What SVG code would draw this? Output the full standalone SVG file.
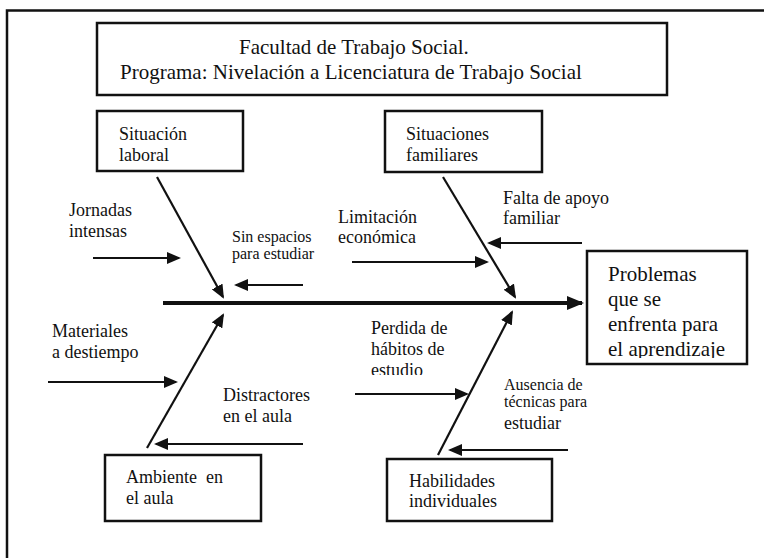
<svg xmlns="http://www.w3.org/2000/svg" width="764" height="558" viewBox="0 0 764 558">
  <style>
    text { font-family: "Liberation Serif", "Times New Roman", serif; fill: #111; }
    .t21 { font-size: 21px; }
    .t18 { font-size: 18px; }
    .t16 { font-size: 16px; }
    .box { fill: #fff; stroke: #111; stroke-width: 2.5; }
    .frame { fill: none; stroke: #111; stroke-width: 2.5; }
    .arrow { fill: none; stroke: #111; stroke-width: 2.2; marker-end: url(#head); }
    .spine { fill: none; stroke: #111; stroke-width: 4; marker-end: url(#bighead); }
  </style>
  <defs>
    <marker id="head" markerUnits="userSpaceOnUse" markerWidth="14" markerHeight="12" viewBox="0 0 14 12" refX="12" refY="6" orient="auto">
      <path d="M0,0 L14,6 L0,12 Z" fill="#111"/>
    </marker>
    <marker id="bighead" markerUnits="userSpaceOnUse" markerWidth="17" markerHeight="14" viewBox="0 0 17 14" refX="15" refY="7" orient="auto">
      <path d="M0,0 L17,7 L0,14 Z" fill="#111"/>
    </marker>
    <clipPath id="clipProblemas"><rect x="587" y="251" width="160" height="107"/></clipPath>
    <clipPath id="clipPerdida"><rect x="360" y="318" width="120" height="57"/></clipPath>
  </defs>

  <rect width="764" height="558" fill="#fff"/>

  <!-- page frame: left and top rules only -->
  <path class="frame" d="M7,558 V10.5 H764"/>

  <!-- header box -->
  <g id="header">
    <rect class="box" x="97" y="23" width="570" height="72"/>
    <text class="t21" x="239" y="54">Facultad de Trabajo Social.</text>
    <text class="t21" x="120" y="79">Programa: Nivelación a Licenciatura de Trabajo Social</text>
  </g>

  <!-- connectors: spine, bones and sub-cause arrows -->
  <g id="connectors">
    <line class="spine" x1="163" y1="303" x2="582" y2="303"/>
    <line class="arrow" x1="157" y1="177" x2="223" y2="297"/>
    <line class="arrow" x1="443" y1="177" x2="515" y2="297"/>
    <line class="arrow" x1="147" y1="448" x2="223" y2="315"/>
    <line class="arrow" x1="438" y1="455" x2="512" y2="312"/>
    <line class="arrow" x1="93" y1="258" x2="179" y2="258"/>
    <line class="arrow" x1="303" y1="285" x2="236" y2="285"/>
    <line class="arrow" x1="352" y1="262" x2="487" y2="262"/>
    <line class="arrow" x1="582" y1="243" x2="489" y2="243"/>
    <line class="arrow" x1="48" y1="382" x2="176" y2="382"/>
    <line class="arrow" x1="303" y1="444" x2="156" y2="444"/>
    <line class="arrow" x1="355" y1="394" x2="467" y2="394"/>
    <line class="arrow" x1="568" y1="450" x2="450" y2="450"/>
  </g>

  <!-- cause categories -->
  <g id="situacion-laboral">
    <rect class="box" x="97" y="111" width="146" height="60"/>
    <text class="t18" x="119" y="140">Situación</text>
    <text class="t18" x="119" y="161">laboral</text>
  </g>
  <g id="situaciones-familiares">
    <rect class="box" x="385" y="111" width="157" height="61"/>
    <text class="t18" x="406" y="140">Situaciones</text>
    <text class="t18" x="406" y="161">familiares</text>
  </g>
  <g id="ambiente-aula">
    <rect class="box" x="105" y="455" width="156" height="66"/>
    <text class="t18" x="126" y="483" xml:space="preserve">Ambiente  en</text>
    <text class="t18" x="126" y="504">el aula</text>
  </g>
  <g id="habilidades">
    <rect class="box" x="387" y="459" width="165" height="62"/>
    <text class="t18" x="409" y="487">Habilidades</text>
    <text class="t18" x="409" y="507">individuales</text>
  </g>

  <!-- effect -->
  <g id="problemas">
    <rect class="box" x="587" y="251" width="160" height="113"/>
    <g clip-path="url(#clipProblemas)">
      <text class="t21" x="608" y="281">Problemas</text>
      <text class="t21" x="608" y="306">que se</text>
      <text class="t21" x="608" y="331">enfrenta para</text>
      <text class="t21" x="608" y="356">el aprendizaje</text>
    </g>
  </g>

  <!-- sub-cause labels -->
  <g id="jornadas">
    <text class="t18" x="69" y="216">Jornadas</text>
    <text class="t18" x="69" y="237">intensas</text>
  </g>
  <g id="sin-espacios">
    <text class="t16" x="232" y="242">Sin espacios</text>
    <text class="t16" x="232" y="259">para estudiar</text>
  </g>
  <g id="limitacion">
    <text class="t18" x="338" y="223">Limitación</text>
    <text class="t18" x="338" y="243">económica</text>
  </g>
  <g id="falta-apoyo">
    <text class="t18" x="503" y="204">Falta de apoyo</text>
    <text class="t18" x="503" y="224">familiar</text>
  </g>
  <g id="materiales">
    <text class="t18" x="52" y="337">Materiales</text>
    <text class="t18" x="52" y="358">a destiempo</text>
  </g>
  <g id="perdida-habitos">
    <g clip-path="url(#clipPerdida)">
      <text class="t18" x="371" y="334">Perdida de</text>
      <text class="t18" x="371" y="355">hábitos de</text>
      <text class="t18" x="371" y="376">estudio</text>
    </g>
  </g>
  <g id="distractores">
    <text class="t18" x="223" y="401">Distractores</text>
    <text class="t18" x="223" y="422">en el aula</text>
  </g>
  <g id="ausencia-tecnicas">
    <text class="t16" x="504" y="390">Ausencia de</text>
    <text class="t16" x="504" y="407">técnicas para</text>
    <text class="t18" x="504" y="429">estudiar</text>
  </g>
</svg>
